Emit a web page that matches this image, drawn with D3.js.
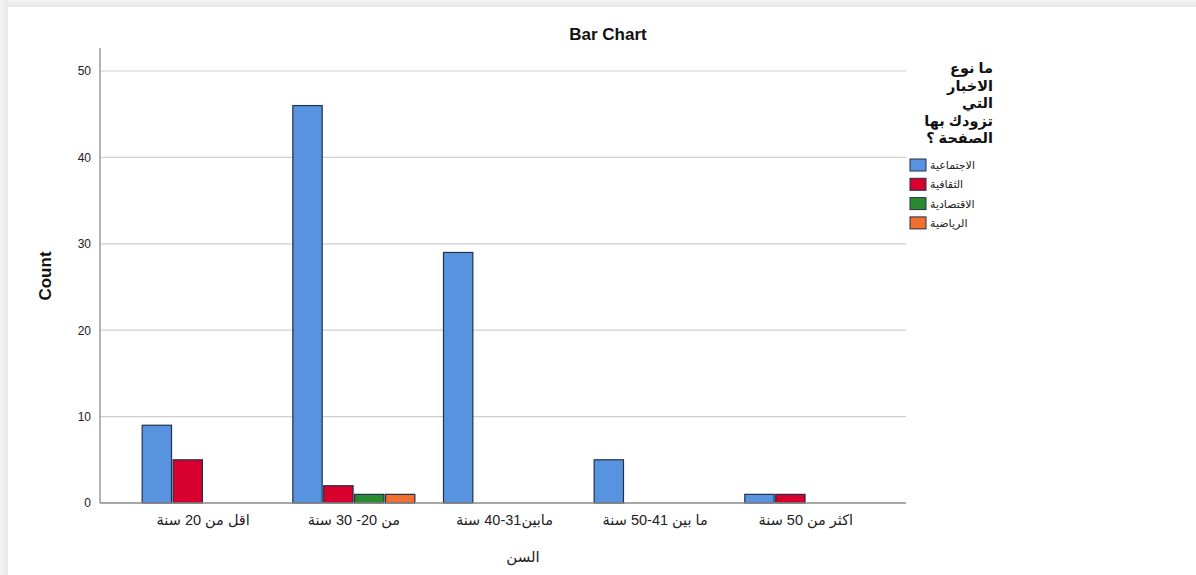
<!DOCTYPE html>
<html>
<head>
<meta charset="utf-8">
<script src="https://cdn.jsdelivr.net/npm/d3@7"></script>
<style>
  html, body { margin: 0; padding: 0; background: #fff; }
  svg { display: block; }
  text { font-family: "Liberation Sans", Arial, "DejaVu Sans", sans-serif; }
</style>
</head>
<body>
<svg id="chart" width="1196" height="575"></svg>
<script>
// ---- data ----
const categories = ["اقل من 20 سنة", "من 20- 30 سنة", "مابين31-40 سنة", "ما بين 41-50 سنة", "اكثر من 50 سنة"];
const seriesNames = ["الاجتماعية", "الثقافية", "الاقتصادية", "الرياضية"];
const social   = [9, 46, 29, 5, 1];
const cultural = [5, 2, 0, 0, 1];
const economic = [0, 1, 0, 0, 0];
const sports   = [0, 1, 0, 0, 0];
const yTicks = [0, 10, 20, 30, 40, 50];
const legendTitleLines = ["ما نوع", "الاخبار", "التي", "تزودك بها", "الصفحة ؟"];
const colors = ["#5893e0", "#d8002e", "#2a8a2e", "#f0702c"];

const seriesValues = [social, cultural, economic, sports];
const rows = categories.map((c, i) => ({
  cat: c,
  vals: seriesNames.map((s, j) => ({ key: s, j: j, v: seriesValues[j][i] }))
}));

const svg = d3.select("#chart");
const defs = svg.append("defs");
const gTop = defs.append("linearGradient").attr("id", "gTop").attr("x1", 0).attr("y1", 0).attr("x2", 0).attr("y2", 1);
gTop.append("stop").attr("offset", "0%").attr("stop-color", "#f3f3f3");
gTop.append("stop").attr("offset", "100%").attr("stop-color", "#e6e6e6");
const gLeft = defs.append("linearGradient").attr("id", "gLeft").attr("x1", 0).attr("y1", 0).attr("x2", 1).attr("y2", 0);
gLeft.append("stop").attr("offset", "0%").attr("stop-color", "#f3f3f3");
gLeft.append("stop").attr("offset", "100%").attr("stop-color", "#e8e8e8");

svg.append("rect").attr("x", 0).attr("y", 0).attr("width", 1196).attr("height", 575).attr("fill", "#fff");
svg.append("rect").attr("x", 0).attr("y", 0).attr("width", 1196).attr("height", 7).attr("fill", "url(#gTop)");
svg.append("rect").attr("x", 0).attr("y", 0).attr("width", 8).attr("height", 575).attr("fill", "url(#gLeft)");

// ---- scales ----
const plotL = 100, plotR = 906, plotT = 48, baseY = 503;
const y = d3.scaleLinear().domain([0, 50]).range([baseY, 71]);
const x0 = d3.scaleBand().domain(categories).range([plotL + 1.5, plotR + 1.5]).paddingInner(0.19).paddingOuter(0.27);
const x1 = d3.scaleBand().domain(seriesNames).range([0, x0.bandwidth()]).paddingInner(0.05).paddingOuter(0);

// gridlines
svg.append("g")
  .selectAll("line").data(yTicks.filter(t => t > 0)).join("line")
  .attr("x1", plotL).attr("x2", plotR)
  .attr("y1", d => y(d)).attr("y2", d => y(d))
  .attr("stroke", "#cfcfcf").attr("stroke-width", 1.2);

// y axis
const yAxis = d3.axisLeft(y).tickValues(yTicks).tickSize(0).tickPadding(9);
const gy = svg.append("g").attr("transform", `translate(${plotL},0)`).call(yAxis);
gy.select(".domain").remove();
gy.selectAll("text").attr("font-size", 12).attr("fill", "#222");
svg.append("line").attr("x1", plotL).attr("x2", plotL).attr("y1", plotT).attr("y2", baseY)
  .attr("stroke", "#9a9a9a").attr("stroke-width", 1.5);

// bars
const groups = svg.append("g").selectAll("g").data(rows).join("g")
  .attr("transform", d => `translate(${x0(d.cat)},0)`);
groups.selectAll("rect").data(d => d.vals.filter(v => v.v > 0)).join("rect")
  .attr("x", d => x1(d.key))
  .attr("width", x1.bandwidth())
  .attr("y", d => y(d.v))
  .attr("height", d => baseY - y(d.v))
  .attr("fill", d => colors[d.j])
  .attr("stroke", "#22304a").attr("stroke-width", 1.2);

// baseline / x axis
const xAxis = d3.axisBottom(x0).tickSize(0).tickPadding(12);
const gx = svg.append("g").attr("transform", `translate(0,${baseY})`).call(xAxis);
gx.select(".domain").remove();
gx.selectAll("text").attr("font-size", 14.5).attr("fill", "#222").attr("direction", "rtl");
svg.append("line").attr("x1", plotL).attr("x2", plotR).attr("y1", baseY).attr("y2", baseY)
  .attr("stroke", "#8a8a8a").attr("stroke-width", 1.5);

// titles
svg.append("text").attr("x", 608).attr("y", 40).attr("text-anchor", "middle")
  .attr("font-size", 17).attr("font-weight", "bold").attr("fill", "#111").text("Bar Chart");
svg.append("text").attr("transform", "translate(51,276) rotate(-90)").attr("text-anchor", "middle")
  .attr("font-size", 17).attr("font-weight", "bold").attr("fill", "#111").text("Count");
svg.append("text").attr("x", 523).attr("y", 562).attr("text-anchor", "middle")
  .attr("font-size", 15).attr("fill", "#222").attr("direction", "rtl").text("السن");

// legend
const lt = svg.append("g");
lt.selectAll("text").data(legendTitleLines).join("text")
  .attr("x", 993).attr("y", (d, i) => 73 + i * 17.5)
  .attr("text-anchor", "end").attr("direction", "ltr")
  .attr("font-size", 14.5).attr("font-weight", "bold").attr("fill", "#111")
  .text(d => d);

const leg = svg.append("g").selectAll("g").data(seriesNames).join("g")
  .attr("transform", (d, i) => `translate(910,${159 + i * 19.3})`);
leg.append("rect").attr("width", 16).attr("height", 12)
  .attr("fill", (d, i) => colors[i]).attr("stroke", "#22304a").attr("stroke-width", 1);
leg.append("text").attr("x", 20).attr("y", 10).attr("font-size", 11).attr("fill", "#222")
  .attr("text-anchor", "start").text(d => d);
</script>
</body>
</html>
